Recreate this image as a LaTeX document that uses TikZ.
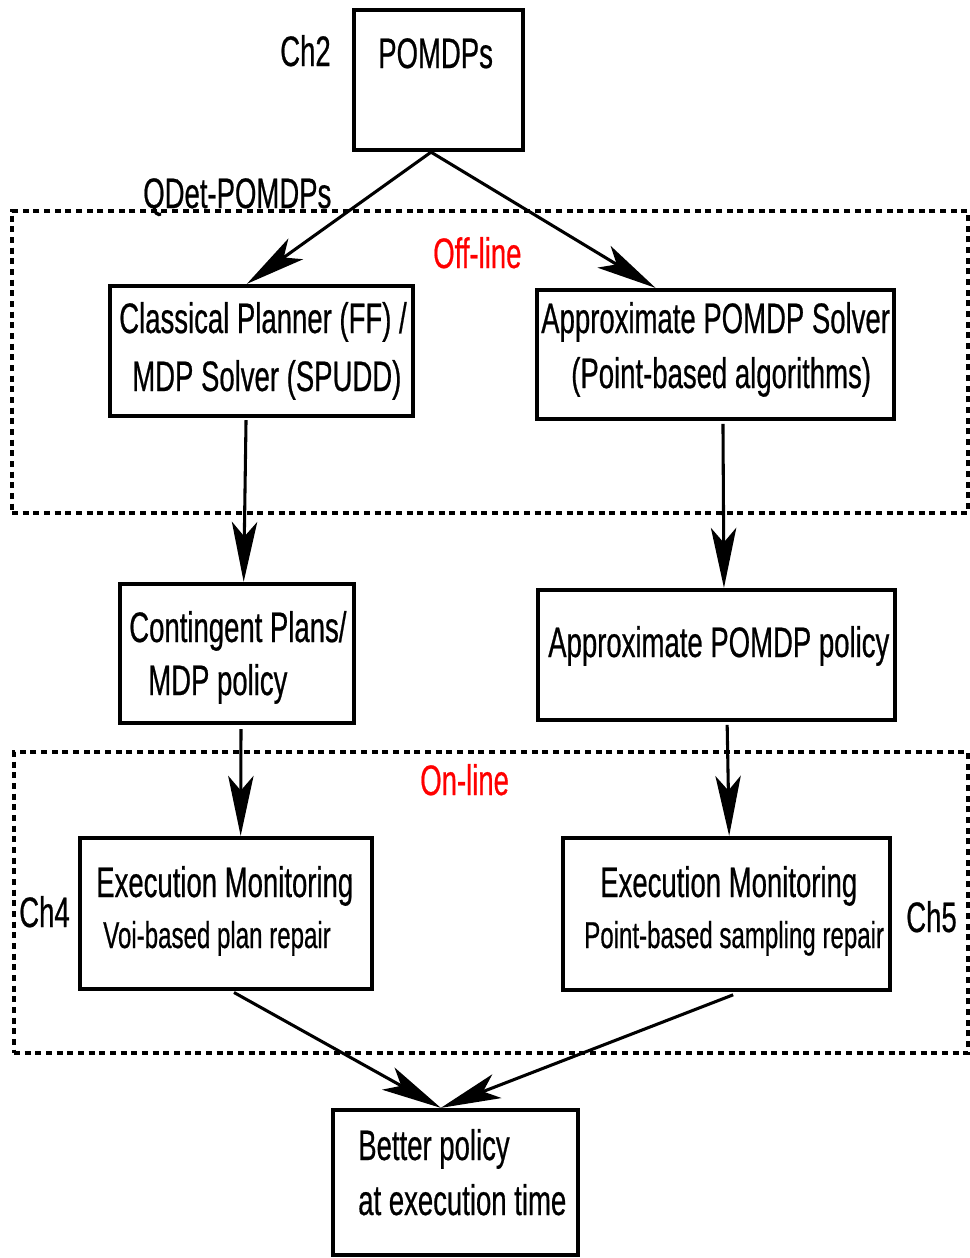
\documentclass[tikz,border=0pt]{standalone}
\usepackage{fontspec}
\setmainfont{Liberation Sans}[FakeStretch=0.645, FakeBold=0.5]
\usetikzlibrary{arrows.meta}
\definecolor{zonered}{RGB}{255,0,0}
\begin{document}
\begin{tikzpicture}[
  x=0.75pt, y=-0.75pt,
  box/.style={draw, rectangle, line width=3.2pt, inner sep=0pt},
  zone/.style={draw, rectangle, line width=2.5pt, dash pattern=on 4.6pt off 3.4pt, inner sep=0pt},
  txt/.style={inner sep=0pt, anchor=base west, font=\fontsize{32}{38}\selectfont},
  smalltxt/.style={txt, font=\fontsize{28}{34}\selectfont},
  zonelabel/.style={txt, text=zonered},
  arr/.style={-{Stealth[length=45pt,width=19pt,inset=11pt]}, line width=2.3pt}
]
\useasboundingbox (0,0) rectangle (970,1258);

% dotted regions
\node[zone, minimum width=956*0.75pt, minimum height=302*0.75pt] (offline) at (490,362) {};
\node[zone, minimum width=954*0.75pt, minimum height=301*0.75pt] (online) at (491,902.5) {};

% boxes
\node[box, minimum width=169*0.75pt, minimum height=140*0.75pt] (pomdp) at (438.5,80) {};
\node[box, minimum width=303*0.75pt, minimum height=130*0.75pt] (cls) at (261.5,351) {};
\node[box, minimum width=357*0.75pt, minimum height=129*0.75pt] (sol) at (715.5,354.5) {};
\node[box, minimum width=234*0.75pt, minimum height=139*0.75pt] (cont) at (237,653.5) {};
\node[box, minimum width=357*0.75pt, minimum height=130*0.75pt] (pol) at (716.5,655) {};
\node[box, minimum width=292*0.75pt, minimum height=151*0.75pt] (exl) at (226,913.5) {};
\node[box, minimum width=327*0.75pt, minimum height=152*0.75pt] (exr) at (726.5,914) {};
\node[box, minimum width=245*0.75pt, minimum height=145*0.75pt] (bet) at (455.5,1182.5) {};

% texts
\node[txt] (pomdp-t) at (378,68) {POMDPs};
\node[txt] (ch2) at (280,66) {Ch2};
\node[txt] (qdet) at (143,208) {QDet-POMDPs};
\node[zonelabel] (offl) at (433,268) {Off-line};
\node[txt] (cls-a) at (119,333) {Classical Planner (FF) /};
\node[txt] (cls-b) at (132,391) {MDP Solver (SPUDD)};
\node[txt] (sol-a) at (541,333) {Approximate POMDP Solver};
\node[txt] (sol-b) at (571,388) {(Point-based algorithms)};
\node[txt] (cont-a) at (129,642) {Contingent Plans/};
\node[txt] (cont-b) at (148,695) {MDP policy};
\node[txt] (pol-a) at (548,657) {Approximate POMDP policy};
\node[zonelabel] (onl) at (420,795) {On-line};
\node[txt] (exl-a) at (96,897) {Execution Monitoring};
\node[smalltxt] (exl-b) at (103,948) {Voi-based plan repair};
\node[txt] (exr-a) at (600,897) {Execution Monitoring};
\node[smalltxt] (exr-b) at (584,948) {Point-based sampling repair};
\node[txt] (ch4) at (19,927) {Ch4};
\node[txt] (ch5) at (906,932) {Ch5};
\node[txt] (bet-a) at (358,1160) {Better policy};
\node[txt] (bet-b) at (358,1215) {at execution time};

% connectors
\draw[arr] ([xshift=-5.6pt]pomdp.south) -- ([xshift=-11pt]cls.north);
\draw[arr] ([xshift=-5.6pt]pomdp.south) -- ([xshift=-45pt]sol.north);
\draw[arr] ([xshift=-11.6pt,yshift=-1.5pt]cls.south) -- ([xshift=5pt]cont.north);
\draw[arr] ([xshift=5.6pt,yshift=-2pt]sol.south) -- ([xshift=5.6pt]pol.north);
\draw[arr] ([xshift=3pt,yshift=-3pt]cont.south) -- ([xshift=11pt]exl.north);
\draw[arr] ([xshift=8pt,yshift=-2pt]pol.south) -- ([xshift=2pt]exr.north);
\draw[arr] ([xshift=6pt,yshift=-1pt]exl.south) -- ([xshift=-11pt]bet.north);
\draw[arr] ([xshift=5pt,yshift=-2pt]exr.south) -- ([xshift=-11pt]bet.north);
\end{tikzpicture}
\end{document}
